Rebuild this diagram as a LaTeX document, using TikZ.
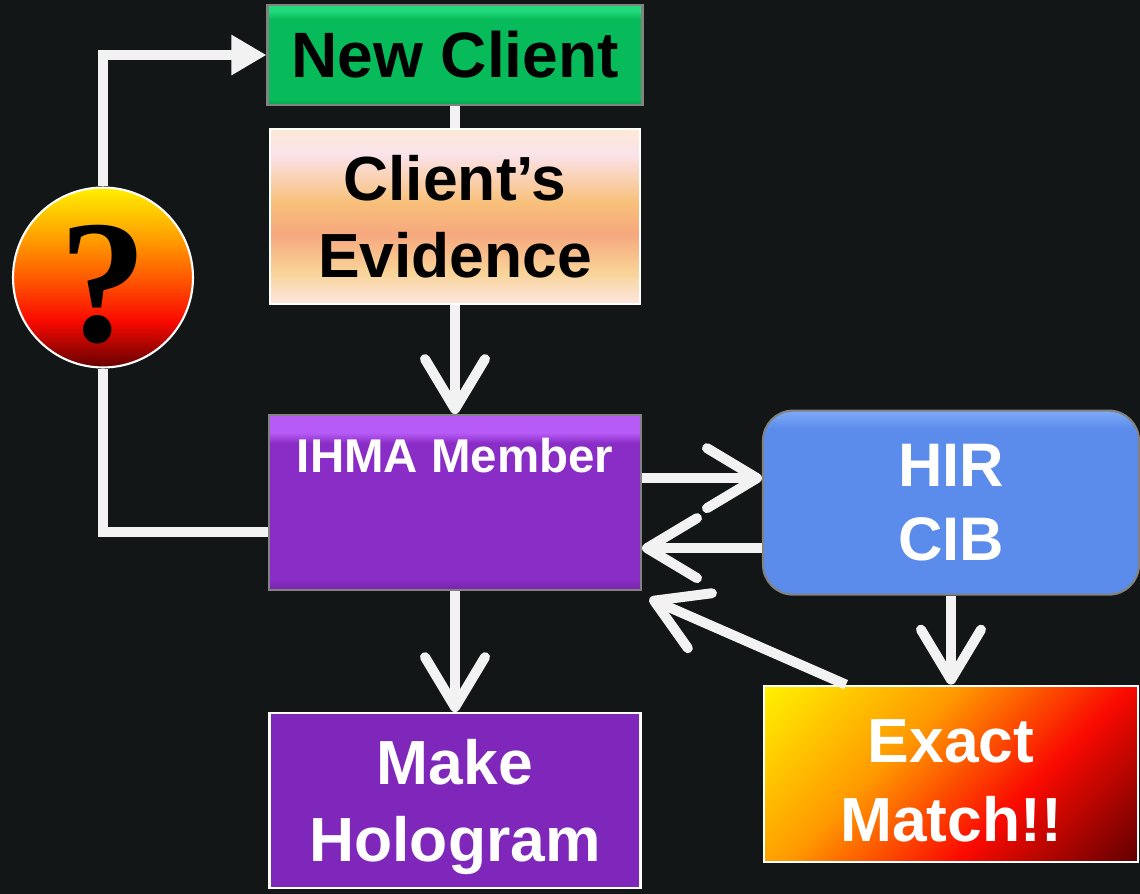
\documentclass[tikz,border=0pt]{standalone}
\usepackage{fontspec}
\setmainfont{Liberation Sans}
\newfontfamily\askfont{Liberation Serif}
\usetikzlibrary{positioning,arrows.meta}

\definecolor{bgcol}{RGB}{19,22,23}
\definecolor{linecol}{RGB}{242,242,242}
\definecolor{boxgray}{RGB}{130,130,130}
\definecolor{clientgreen}{RGB}{8,187,90}
\definecolor{clientlight}{RGB}{34,218,124}
\definecolor{clientdark}{RGB}{6,160,76}
\definecolor{evidtop}{RGB}{252,234,214}
\definecolor{evidpink}{RGB}{251,227,235}
\definecolor{evidorange}{RGB}{248,192,122}
\definecolor{evidsalmon}{RGB}{246,168,126}
\definecolor{evidsand}{RGB}{249,212,152}
\definecolor{evidbottom}{RGB}{253,230,226}
\definecolor{memberpurple}{RGB}{138,45,198}
\definecolor{memberlight}{RGB}{183,91,247}
\definecolor{memberdark}{RGB}{118,36,170}
\definecolor{hirblue}{RGB}{91,140,236}
\definecolor{hirlight}{RGB}{126,170,246}
\definecolor{holopurple}{RGB}{126,39,186}
\definecolor{hotyellow}{RGB}{255,240,0}
\definecolor{hotorange}{RGB}{255,153,0}
\definecolor{hotmid}{RGB}{255,90,0}
\definecolor{hotred}{RGB}{250,10,0}
\definecolor{hotdark}{RGB}{100,0,0}

\pgfdeclareverticalshading{clientshade}{100bp}{color(0bp)=(clientdark); color(25bp)=(clientdark); color(28bp)=(clientgreen); color(68bp)=(clientgreen); color(72bp)=(clientlight); color(100bp)=(clientlight)}
\pgfdeclareverticalshading{evidshade}{100bp}{color(0bp)=(evidbottom); color(25bp)=(evidbottom); color(34bp)=(evidsand); color(45bp)=(evidsalmon); color(54bp)=(evidorange); color(68bp)=(evidpink); color(75bp)=(evidtop); color(100bp)=(evidtop)}
\pgfdeclareverticalshading{membershade}{100bp}{color(0bp)=(memberdark); color(25bp)=(memberdark); color(28bp)=(memberpurple); color(67bp)=(memberpurple); color(70bp)=(memberlight); color(100bp)=(memberlight)}
\pgfdeclareverticalshading{hirshade}{100bp}{color(0bp)=(hirblue); color(70bp)=(hirblue); color(75bp)=(hirlight); color(100bp)=(hirlight)}
\pgfdeclareverticalshading{askshade}{100bp}{color(0bp)=(hotdark); color(25bp)=(hotdark); color(38bp)=(hotred); color(50bp)=(hotmid); color(60bp)=(hotorange); color(75bp)=(hotyellow); color(100bp)=(hotyellow)}
\pgfdeclarehorizontalshading{matchshade}{100bp}{color(0bp)=(hotyellow); color(15bp)=(hotyellow); color(40bp)=(hotorange); color(62bp)=(hotred); color(85bp)=(hotdark); color(100bp)=(hotdark)}

\begin{document}
\begin{tikzpicture}[x=0.02cm, y=-0.02cm,
				clientnode/.style={rectangle, draw=boxgray, line width=1.2pt, shading=clientshade, minimum width=7.5cm, minimum height=2cm, text=black, font=\bfseries\fontsize{36.5}{44}\selectfont},
				evidnode/.style={rectangle, draw=white, line width=1.2pt, shading=evidshade, minimum width=7.4cm, minimum height=3.5cm, align=center, text=black, font=\bfseries\fontsize{35.5}{44}\selectfont},
				membernode/.style={rectangle, draw=boxgray, line width=1.2pt, shading=membershade, minimum width=7.44cm, minimum height=3.5cm},
				hirnode/.style={rectangle, rounded corners=0.6cm, draw=boxgray, line width=1.2pt, shading=hirshade, minimum width=7.52cm, minimum height=3.68cm, align=center, text=white, font=\bfseries\fontsize{35}{42}\selectfont},
				matchnode/.style={rectangle, draw=white, line width=1.2pt, shading=matchshade, shading angle=-45, minimum width=7.48cm, minimum height=3.52cm, align=center, text=white, text height=2.73cm, font=\bfseries\fontsize{35.5}{45}\selectfont},
				holonode/.style={rectangle, draw=white, line width=1.2pt, fill=holopurple, minimum width=7.42cm, minimum height=3.5cm, align=center, text=white, text depth=0pt, font=\bfseries\fontsize{35.5}{44}\selectfont},
				asknode/.style={circle, draw=white, line width=1.2pt, shading=askshade, minimum size=3.6cm, inner sep=0pt},
				asktext/.style={text=black, inner sep=0pt, font=\askfont\bfseries\fontsize{100}{100}\selectfont},
			]
			\fill[bgcol] (0,0) rectangle (1140,894);
			\node[clientnode] (newclient) at (455,55) {New Client};
			\node[evidnode] (evidence) [below=0.44cm of newclient] {Client’s\\Evidence};
			\node[membernode] (member) [below=2.18cm of evidence] {};
			\node[anchor=north, text=white, font=\bfseries\fontsize{27}{32}\selectfont] (membertext) at ([yshift=-0.36cm]member.north) {IHMA Member};
			\node[hirnode] (hircib) [right=2.4cm of member] {HIR\\CIB};
			\node[matchnode] (match) [below=1.78cm of hircib] {Exact\\Match!!};
			\node[holonode] (hologram) [below=2.42cm of member] {Make\\Hologram};
			\node[asknode] (ask) at (103,277.5) {};
			\node[asktext] (askmark) at ([yshift=-0.14cm]ask.center) {?};
			\begin{scope}[line width=0.2cm, draw=linecol, -{Straight Barb[length=1.0cm,width=1.2cm,round]}]
			\draw[-] (newclient.south) -- (evidence.north);
			\draw (evidence.south) -- (member.north);
			\draw ([yshift=0.49cm]member.east) -- ([yshift=0.49cm]hircib.west);
			\draw ([yshift=-0.91cm]hircib.west) -- ([yshift=-0.91cm]member.east);
			\draw (hircib.south) -- (match.north);
			\draw ([xshift=-2.1cm]match.north) -- ([xshift=0.15cm,yshift=-0.15cm]member.south east);
			\draw (member.south) -- (hologram.north);
			\draw[-{Triangle[length=0.7cm,width=0.76cm]}] (ask.north) |- (newclient.west);
			\draw[-] (ask.south) |- ([yshift=-0.59cm]member.west);
			\end{scope}
			\end{tikzpicture}
\end{document}
